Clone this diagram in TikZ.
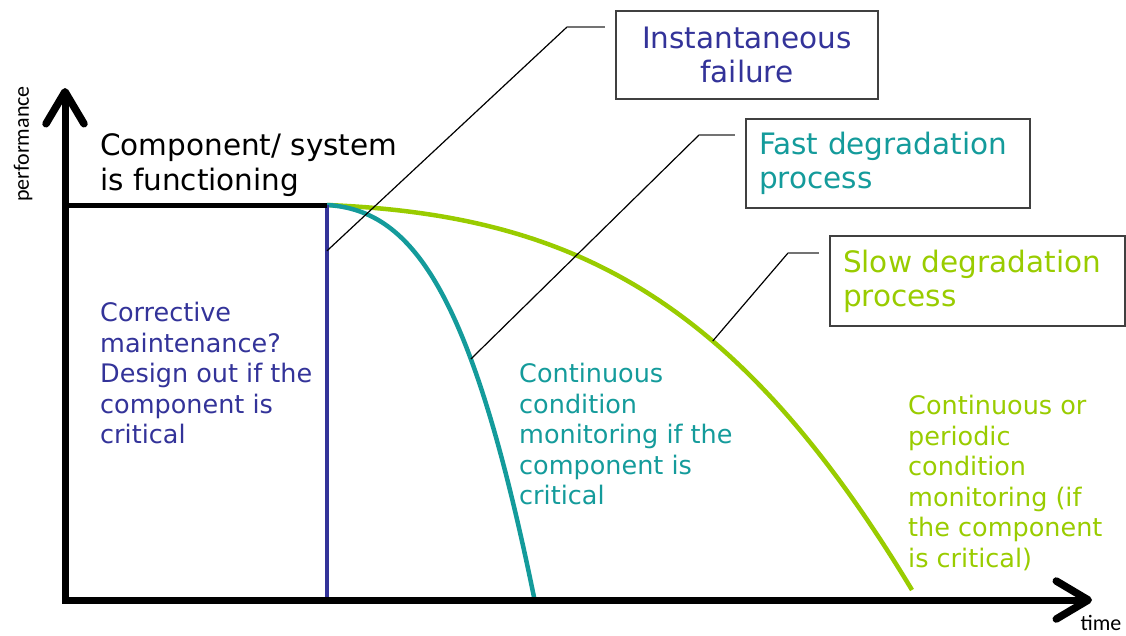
\documentclass[tikz,border=0pt]{standalone}
\usepackage{fontspec}
\setmainfont{DejaVu Sans}
\newfontfamily\axisfont{Carlito}
\usetikzlibrary{arrows.meta}

\definecolor{failblue}{RGB}{51,51,153}
\definecolor{fastteal}{RGB}{20,155,155}
\definecolor{slowgreen}{RGB}{153,204,0}

\begin{document}
\begin{tikzpicture}[x=1pt,y=-1pt,
  axis/.style={line width=7pt,line join=miter,
    {Straight Barb[length=32pt,width=38pt,line width=7.5pt,round]}-{Straight Barb[length=32pt,width=38pt,line width=7.5pt,round]}},
  curve/.style={line width=4.5pt},
  callout/.style={line width=1.2pt},
  callbox/.style={draw=black!75,line width=1.5pt,inner xsep=13pt,
    font=\fontsize{29.5}{34}\selectfont},
  note/.style={anchor=north west,inner sep=0pt,align=left,
    font=\fontsize{25.5}{30.5}\selectfont},
  axislabel/.style={inner sep=0pt,font=\axisfont\fontsize{22}{26}\selectfont}
]
  \useasboundingbox (0,0) rectangle (1126,635);

  \coordinate (origin) at (65,600);
  \coordinate (ytop) at (65,88);
  \coordinate (xend) at (1092,600);
  \coordinate (fstart) at (65,205);
  \coordinate (fail) at (327,205);
  \coordinate (failbase) at (327,600);

  % degradation curves
  \draw[curve,slowgreen] (fail) .. controls (575,215) and (737,300) .. (912,590)
    coordinate[pos=0.62] (slowpt);
  \draw[curve,fastteal] (fail) .. controls (415,210) and (473,298) .. (535,602)
    coordinate[pos=0.655] (fastpt);

  % instantaneous failure and normal operation
  \draw[line width=4pt,failblue] (fail) -- (failbase) coordinate[pos=0.116] (instpt);
  \draw[line width=5pt] (fstart) -- (fail);

  \draw[axis] (ytop) -- (origin) -- (xend);

  \node[axislabel,rotate=90] (perf) at (23,144) {performance};
  \node[axislabel] (time) at (1101,623) {time};

  % labelled boxes
  \node[callbox,text=failblue,align=center,minimum width=262pt,minimum height=88pt]
    (instbox) at (747,55) {Instantaneous\\failure};
  \node[callbox,text=fastteal,align=left,text width=258pt,minimum height=89pt]
    (fastbox) at (888,163.5) {Fast degradation\\process};
  \node[callbox,text=slowgreen,align=left,text width=269pt,minimum height=90pt]
    (slowbox) at (977.5,281) {Slow degradation\\process};

  \coordinate (instknee) at (567,27);
  \coordinate (instend) at (605,27);
  \coordinate (fastknee) at (699,135);
  \coordinate (fastend) at (735,135);
  \coordinate (slowknee) at (788,253);
  \coordinate (slowend) at (819,253);

  \draw[callout] (instpt) -- (instknee);
  \draw[callout,black!55] (instknee) -- (instend);
  \draw[callout] (fastpt) -- (fastknee);
  \draw[callout,black!55] (fastknee) -- (fastend);
  \draw[callout] (slowpt) -- (slowknee);
  \draw[callout,black!55] (slowknee) -- (slowend);

  % free text
  \node[note,font=\fontsize{29.5}{35}\selectfont] (functioning) at (100,133)
    {Component/ system\\is functioning};
  \node[note,text=failblue] (corrective) at (100,302)
    {Corrective\\maintenance?\\Design out if the\\component is\\critical};
  \node[note,text=fastteal] (fastnote) at (519,363)
    {Continuous\\condition\\monitoring if the\\component is\\critical};
  \node[note,text=slowgreen] (slownote) at (908,395)
    {Continuous or\\periodic\\condition\\monitoring (if\\the component\\is critical)};
\end{tikzpicture}
\end{document}
